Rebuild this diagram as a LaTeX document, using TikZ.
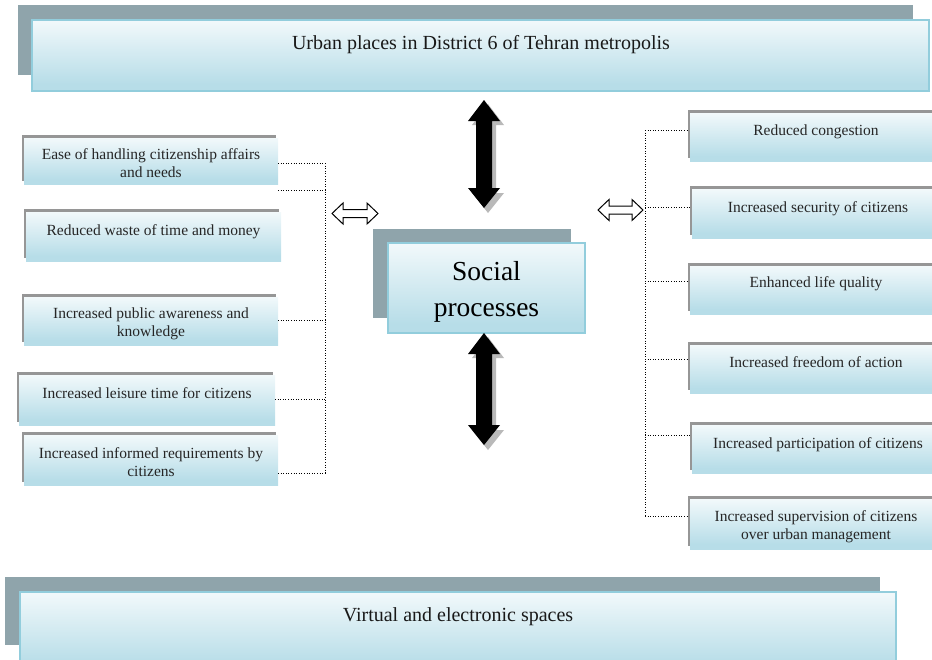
\documentclass[tikz,border=0pt]{standalone}
\usepackage{fontspec}
\setmainfont{Liberation Serif}
\usetikzlibrary{calc}
\definecolor{boxblue}{RGB}{183,221,232}
\definecolor{edgeblue}{RGB}{146,205,220}
\definecolor{shadowgray}{RGB}{143,164,171}
\definecolor{bordergray}{RGB}{150,150,150}
\definecolor{arrowshadow}{RGB}{185,185,185}
\pgfdeclareverticalshading{boxgrad}{100bp}{color(0bp)=(boxblue); color(30bp)=(boxblue); color(85bp)=(white); color(100bp)=(white)}
\tikzset{
  boxbase/.style={anchor=north west, outer sep=0pt, inner sep=0pt},
  bigback/.style={boxbase, fill=shadowgray},
  bigfront/.style={boxbase, shading=boxgrad, draw=edgeblue, line width=1.6pt},
  smallback/.style={boxbase, fill=bordergray},
  smallfront/.style={boxbase, shading=boxgrad},
  lbl/.style={anchor=north, inner sep=0pt, align=center, font=\fontsize{15.5}{18}\selectfont, text=black!85},
  biglbl/.style={anchor=north, inner sep=0pt, align=center, font=\fontsize{20}{24}\selectfont, text=black!90},
  link/.style={dotted, line width=0.6pt},
  blackarrow/.style={fill=black},
  blackarrowshadow/.style={fill=arrowshadow},
  hollowarrow/.style={fill=white, draw=black, line width=1pt, line join=miter},
}
% small box: name, x, y, w, h
\newcommand{\myBox}[5]{%
  \node[smallback, minimum width=#4, minimum height=#5] (#1s) at (#2-2.5,#3-3) {};
  \node[smallfront, minimum width=#4, minimum height=#5] (#1) at (#2,#3) {};}
% vertical double arrow path relative to named coordinates
\newcommand{\myVArrow}[3]{% top coord, bottom coord, style
  \fill[#3] (#1) -- ++(16,21) -- ++(-8,0) |- ($(#2)+(8,-20)$) -- ++(8,0) -- (#2) -- ++(-16,-20) -- ++(8,0) |- ($(#1)+(-16,21)$) -- cycle;}
\newcommand{\myHArrow}[2]{% left coord, right coord
  \draw[hollowarrow] (#1) -- ++(11,-10.5) -- ++(0,6.5) -| ($(#2)+(-11,-10.5)$) -- (#2) -- ++(-11,10.5) -- ++(0,-6.5) -| ($(#1)+(11,10.5)$) -- cycle;}
\begin{document}
\begin{tikzpicture}[x=1pt,y=-1pt]
\useasboundingbox (0,0) rectangle (932,659);
% top box
\node[bigback, minimum width=895, minimum height=70] (tops) at (18,5) {};
\node[bigfront, minimum width=897, minimum height=71] (top) at (32,20) {};
\node[biglbl] (topt) at (481,35.6) {Urban places in District 6 of Tehran metropolis};
% bottom box
\node[bigback, minimum width=875, minimum height=68] (bots) at (5,577) {};
\node[bigfront, minimum width=876, minimum height=80] (bot) at (20,592) {};
\node[biglbl] (bott) at (458,607.6) {Virtual and electronic spaces};
% center box
\node[bigback, minimum width=198, minimum height=89] (cens) at (373,229) {};
\node[bigfront, minimum width=197, minimum height=90] (cen) at (388,243) {};
\node[anchor=north, inner sep=0pt, align=center, font=\fontsize{27.5}{36}\selectfont] (cent) at (486.5,260.8) {Social\\processes};
% left boxes
\myBox{l1}{24}{138}{254}{46}
\node[lbl] (l1t) at (151,148.3) {Ease of handling citizenship affairs\\and needs};
\myBox{l2}{26}{212}{255}{49}
\node[lbl] (l2t) at (153.5,224.3) {Reduced waste of time and money};
\myBox{l3}{24}{297}{254}{48}
\node[lbl] (l3t) at (151,307.3) {Increased public awareness and\\knowledge};
\myBox{l4}{19}{375}{256}{50}
\node[lbl] (l4t) at (147,387.3) {Increased leisure time for citizens};
\myBox{l5}{24}{435}{254}{50}
\node[lbl] (l5t) at (151,447.3) {Increased informed requirements by\\citizens};
% right boxes
\myBox{r1}{690}{113}{245}{48}
\node[lbl] (r1t) at (816,124.3) {Reduced congestion};
\myBox{r2}{692}{189}{243}{49}
\node[lbl] (r2t) at (818,201.3) {Increased security of citizens};
\myBox{r3}{690}{266}{245}{48}
\node[lbl] (r3t) at (816,276.3) {Enhanced life quality};
\myBox{r4}{690}{345}{245}{48}
\node[lbl] (r4t) at (816,356.3) {Increased freedom of action};
\myBox{r5}{692}{425}{243}{48}
\node[lbl] (r5t) at (818,437.3) {Increased participation of citizens};
\myBox{r6}{690}{499}{245}{50}
\node[lbl] (r6t) at (816,510.3) {Increased supervision of citizens\\over urban management};
% left dotted bracket
\coordinate (lbus) at (325,163);
\coordinate (lbue) at (325,473);
\draw[link] (lbus) -- (lbue);
\draw[link] (l1.east |- 0,163) -- (lbus);
\draw[link] (l1.east |- 0,190) -- (lbus |- 0,190);
\draw[link] (l3.east |- 0,320) -- (lbus |- 0,320);
\draw[link] (l4.east |- 0,399) -- (lbus |- 0,399);
\draw[link] (l5.east |- 0,473) -- (lbue);
% right dotted bracket
\coordinate (rbus) at (645,130);
\coordinate (rbue) at (645,516);
\draw[link] (rbus) -- (rbue);
\draw[link] (rbus) -- (r1s.west |- rbus);
\draw[link] (rbus |- 0,207) -- (r2s.west |- 0,207);
\draw[link] (rbus |- 0,281) -- (r3s.west |- 0,281);
\draw[link] (rbus |- 0,359) -- (r4s.west |- 0,359);
\draw[link] (rbus |- 0,435) -- (r5s.west |- 0,435);
\draw[link] (rbue) -- (r6s.west |- rbue);
% hollow double arrows
\coordinate (hal) at (332,213.5);
\coordinate (har) at (378,213.5);
\myHArrow{hal}{har}
\coordinate (hbl) at (598,210);
\coordinate (hbr) at (643,210);
\myHArrow{hbl}{hbr}
% black double arrows
\coordinate (vat) at (484,100);
\coordinate (vab) at (484,208);
\coordinate (vats) at (488,104);
\coordinate (vabs) at (488,213);
\myVArrow{vats}{vabs}{blackarrowshadow}
\myVArrow{vat}{vab}{blackarrow}
\coordinate (vbt) at (484,333);
\coordinate (vbb) at (484,445);
\coordinate (vbts) at (488,337);
\coordinate (vbbs) at (488,450);
\myVArrow{vbts}{vbbs}{blackarrowshadow}
\myVArrow{vbt}{vbb}{blackarrow}
\end{tikzpicture}
\end{document}
